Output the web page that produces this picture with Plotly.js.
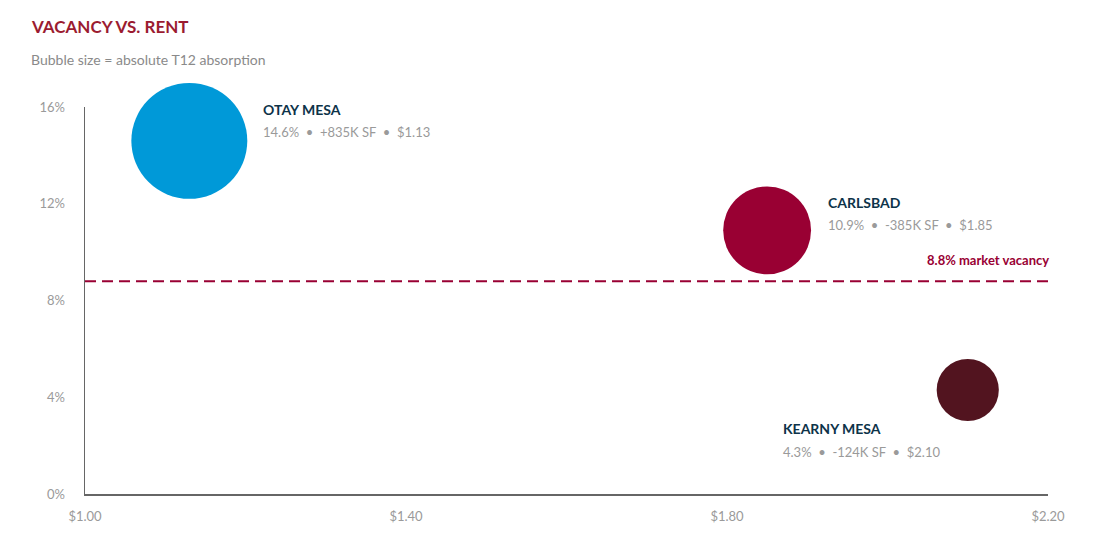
<!DOCTYPE html>
<html>
<head>
<meta charset="utf-8">
<script src="https://cdn.plot.ly/plotly-3.0.1.min.js"></script>
<style>
  html, body { margin: 0; padding: 0; background: #fff; }
  #chart { width: 1120px; height: 542px; }
</style>
</head>
<body>
<div id="chart"></div>
<script>
// submarket data
var names = ['OTAY MESA', 'CARLSBAD', 'KEARNY MESA'];
var rent = [1.13, 1.85, 2.10];
var vacancy = [14.6, 10.9, 4.3];
var absorption = [835, -385, -124]; // T12, K SF
var colors = ['#0099d8', '#990033', '#52141f'];
var marketVacancy = 8.8;

var xTicks = [1.0, 1.4, 1.8, 2.2];
var xTickText = ['$1.00', '$1.40', '$1.80', '$2.20'];
var yTicks = [0, 4, 8, 12, 16];
var yTickText = ['0%', '4%', '8%', '12%', '16%'];

// bubble diameter grows with sqrt of absolute absorption
var sizes = absorption.map(function (a) { return 28.4 + 3.03 * Math.sqrt(Math.abs(a)); });

var trace = {
  x: rent,
  y: vacancy,
  type: 'scatter',
  mode: 'markers',
  marker: { size: sizes, sizemode: 'diameter', color: colors, opacity: 1, line: { width: 0 } },
  hoverinfo: 'skip',
  cliponaxis: false
};

// label offsets relative to the bubble centre (px)
var nameShift = [[72, 31], [59, 28], [-187, -39]];
var detailShift = [[72, 9], [59, 5], [-187, -62]];

var annotations = [];
for (var i = 0; i < names.length; i++) {
  var sign = absorption[i] > 0 ? '+' : '-';
  var detail = vacancy[i].toFixed(1) + '%  \u2022  ' + sign + Math.abs(absorption[i]) + 'K SF  \u2022  $' + rent[i].toFixed(2);
  annotations.push({
    x: rent[i], y: vacancy[i], xref: 'x', yref: 'y', showarrow: false,
    xanchor: 'left', yanchor: 'middle',
    xshift: nameShift[i][0], yshift: nameShift[i][1],
    text: '<b>' + names[i] + '</b>',
    font: { family: 'Lato, sans-serif', size: 14, color: '#0d3349' }
  });
  annotations.push({
    x: rent[i], y: vacancy[i], xref: 'x', yref: 'y', showarrow: false,
    xanchor: 'left', yanchor: 'middle',
    xshift: detailShift[i][0], yshift: detailShift[i][1],
    text: detail,
    font: { family: 'Lato, sans-serif', size: 13, color: '#9a9a9a' }
  });
}

// reference line label
annotations.push({
  x: 1, y: marketVacancy, xref: 'paper', yref: 'y', showarrow: false,
  xanchor: 'right', yanchor: 'middle', xshift: 3, yshift: 21,
  text: '<b>' + marketVacancy + '% market vacancy</b>',
  font: { family: 'Lato, sans-serif', size: 13, color: '#990033' }
});

// title + subtitle, left-aligned with page edge
annotations.push({
  x: -0.0582, y: 1.209, xref: 'paper', yref: 'paper', showarrow: false,
  xanchor: 'left', yanchor: 'middle',
  text: '<b>VACANCY VS. RENT</b>',
  font: { family: 'Lato, sans-serif', size: 17, color: '#9b1b30' }
});
annotations.push({
  x: -0.0582, y: 1.124, xref: 'paper', yref: 'paper', showarrow: false,
  xanchor: 'left', yanchor: 'middle',
  text: 'Bubble size = absolute T12 absorption',
  font: { family: 'Lato, sans-serif', size: 14, color: '#8a8a8a' }
});

var layout = {
  width: 1120,
  height: 542,
  margin: { l: 85, r: 72, t: 107, b: 48 },
  paper_bgcolor: '#fff',
  plot_bgcolor: '#fff',
  showlegend: false,
  font: { family: 'Lato, sans-serif', color: '#9a9a9a' },
  xaxis: {
    range: [1.0, 2.2],
    tickvals: xTicks, ticktext: xTickText,
    showgrid: false, zeroline: false,
    showline: true, linecolor: '#666', linewidth: 1.5,
    ticks: 'outside', ticklen: 10, tickcolor: 'rgba(0,0,0,0)',
    tickfont: { size: 13, color: '#9a9a9a' },
    fixedrange: true
  },
  yaxis: {
    range: [0, 16],
    tickvals: yTicks, ticktext: yTickText,
    showgrid: false, zeroline: false,
    showline: true, linecolor: '#666', linewidth: 1.5,
    ticks: 'outside', ticklen: 16, tickcolor: 'rgba(0,0,0,0)',
    tickfont: { size: 13, color: '#9a9a9a' },
    fixedrange: true
  },
  shapes: [{
    type: 'line', xref: 'paper', yref: 'y',
    x0: 0, x1: 1, y0: marketVacancy, y1: marketVacancy,
    line: { color: '#990033', width: 2, dash: '11px,6px' }
  }],
  annotations: annotations
};

Plotly.newPlot('chart', [trace], layout, { displayModeBar: false, staticPlot: true });
</script>
</body>
</html>
